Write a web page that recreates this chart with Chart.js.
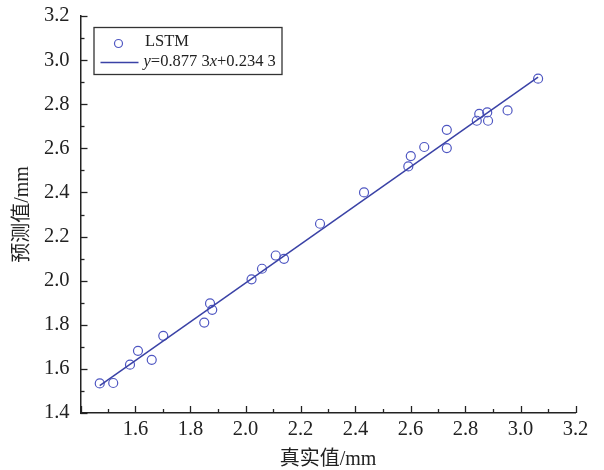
<!DOCTYPE html>
<html><head><meta charset="utf-8">
<script src="https://cdn.jsdelivr.net/npm/chart.js@4"></script>
<style>html,body{margin:0;padding:0;background:#fff}</style>
</head><body>
<canvas id="c" width="604" height="470"></canvas>
<script>
// ---- data ----
const actualValues = [1.470, 1.519, 1.580, 1.609, 1.659, 1.701, 1.850, 1.871, 1.879, 2.022,
  2.060, 2.110, 2.140, 2.271, 2.431, 2.592, 2.601, 2.650, 2.732, 2.732,
  2.841, 2.850, 2.879, 2.882, 2.953, 3.064];
const predictedValues = [1.534, 1.536, 1.619, 1.682, 1.641, 1.750, 1.810, 1.897, 1.868, 2.006,
  2.054, 2.114, 2.099, 2.258, 2.400, 2.518, 2.565, 2.606, 2.684, 2.601,
  2.725, 2.756, 2.763, 2.725, 2.772, 2.916];
const fitSlope = 0.8773;
const fitIntercept = 0.2343;
const fitRangeX = [1.47, 3.064];
const xTicks = [1.4, 1.6, 1.8, 2.0, 2.2, 2.4, 2.6, 2.8, 3.0, 3.2];
const yTicks = [1.4, 1.6, 1.8, 2.0, 2.2, 2.4, 2.6, 2.8, 3.0, 3.2];
const seriesName = 'LSTM';
const xTitle = '真实值/mm';
const yTitle = '预测值/mm';

const SERIF = "'Liberation Serif','Times New Roman','Noto Sans CJK SC',serif";
const TITLEFONT = "'Liberation Serif','Noto Sans CJK SC',serif";
const markerColor = '#4f57c2';
const lineColor = '#3a42a6';
const axisColor = '#222222';

const scatterData = actualValues.map((x, i) => ({x: x, y: predictedValues[i]}));
const fitData = fitRangeX.map(x => ({x: x, y: fitSlope * x + fitIntercept}));

const tickPlugin = {
  id: 'inwardTicks',
  afterDatasetsDraw(chart) {
    const ctx = chart.ctx, xs = chart.scales.x, ys = chart.scales.y;
    const area = chart.chartArea;
    ctx.save();
    ctx.strokeStyle = axisColor;
    ctx.lineWidth = 1.3;
    for (let i = 0; i <= 18; i++) {
      const v = 1.4 + i * 0.1;
      const major = i % 2 === 0;
      const len = major ? 7 : 4;
      const px = Math.round(xs.getPixelForValue(v)) + 0.5;
      ctx.beginPath(); ctx.moveTo(px, area.bottom); ctx.lineTo(px, area.bottom - len); ctx.stroke();
      const py = Math.round(ys.getPixelForValue(v)) + 0.5;
      ctx.beginPath(); ctx.moveTo(area.left, py); ctx.lineTo(area.left + len, py); ctx.stroke();
    }
    ctx.restore();
  }
};

const legendPlugin = {
  id: 'boxLegend',
  afterDraw(chart) {
    const ctx = chart.ctx;
    ctx.save();
    ctx.strokeStyle = '#333';
    ctx.lineWidth = 1.3;
    ctx.fillStyle = '#fff';
    ctx.fillRect(94, 27.5, 188, 47);
    ctx.strokeRect(94, 27.5, 188, 47);
    // marker
    ctx.strokeStyle = markerColor; ctx.lineWidth = 1.2;
    ctx.beginPath(); ctx.arc(118.5, 43.5, 4, 0, Math.PI * 2); ctx.stroke();
    // line
    ctx.strokeStyle = lineColor; ctx.lineWidth = 1.3;
    ctx.beginPath(); ctx.moveTo(100.5, 62.5); ctx.lineTo(138.5, 62.5); ctx.stroke();
    ctx.fillStyle = '#222';
    ctx.textBaseline = 'middle';
    ctx.font = "16.5px " + SERIF;
    ctx.fillText(seriesName, 145, 42);
    const parts = [['y', true], ['=0.877 3', false], ['x', true], ['+0.234 3', false]];
    let x = 143.5;
    for (const [t, it] of parts) {
      ctx.font = (it ? 'italic ' : '') + "16.5px " + SERIF;
      ctx.fillText(t, x, 62);
      x += ctx.measureText(t).width;
    }
    ctx.restore();
  }
};

new Chart(document.getElementById('c'), {
  data: {
    datasets: [
      {type: 'scatter', label: seriesName, data: scatterData, pointStyle: 'circle',
       pointRadius: 4.5, pointHoverRadius: 4.5, pointBorderWidth: 1.2,
       borderColor: markerColor, backgroundColor: 'rgba(0,0,0,0)', order: 2},
      {type: 'line', label: 'fit', data: fitData, borderColor: lineColor, borderWidth: 1.5,
       pointRadius: 0, fill: false, tension: 0, order: 1}
    ]
  },
  options: {
    responsive: false,
    animation: false,
    devicePixelRatio: 1,
    layout: {padding: {top: 16, right: 28.5, left: 0, bottom: 0}},
    plugins: {legend: {display: false}, tooltip: {enabled: false}},
    scales: {
      x: {
        type: 'linear', min: 1.4, max: 3.2,
        afterBuildTicks(s) { s.ticks = xTicks.map(v => ({value: v})); },
        afterFit(s) { s.height = 57; s.paddingLeft = 0; s.paddingRight = 0; },
        grid: {display: false, drawTicks: false},
        border: {display: true, color: axisColor, width: 1.5},
        ticks: {
          padding: 4, color: '#222', font: {family: SERIF, size: 20.5},
          maxRotation: 0, autoSkip: false,
          callback: v => (Math.abs(v - 1.4) < 1e-6 ? '' : v.toFixed(1))
        },
        title: {display: true, text: xTitle, color: '#222', font: {family: TITLEFONT, size: 20}, padding: {top: 0, bottom: -2}}
      },
      y: {
        type: 'linear', min: 1.4, max: 3.2,
        afterBuildTicks(s) { s.ticks = yTicks.map(v => ({value: v})); },
        afterFit(s) { s.width = 80.5; s.paddingTop = 0; s.paddingBottom = 0; },
        grid: {display: false, drawTicks: false},
        border: {display: true, color: axisColor, width: 1.5},
        ticks: {
          padding: 11, color: '#222', font: {family: SERIF, size: 20.5},
          autoSkip: false, callback: v => v.toFixed(1)
        },
        title: {display: true, text: yTitle, color: '#222', font: {family: TITLEFONT, size: 20}, padding: {top: 11, bottom: 0}}
      }
    }
  },
  plugins: [tickPlugin, legendPlugin]
});
</script>
</body></html>
